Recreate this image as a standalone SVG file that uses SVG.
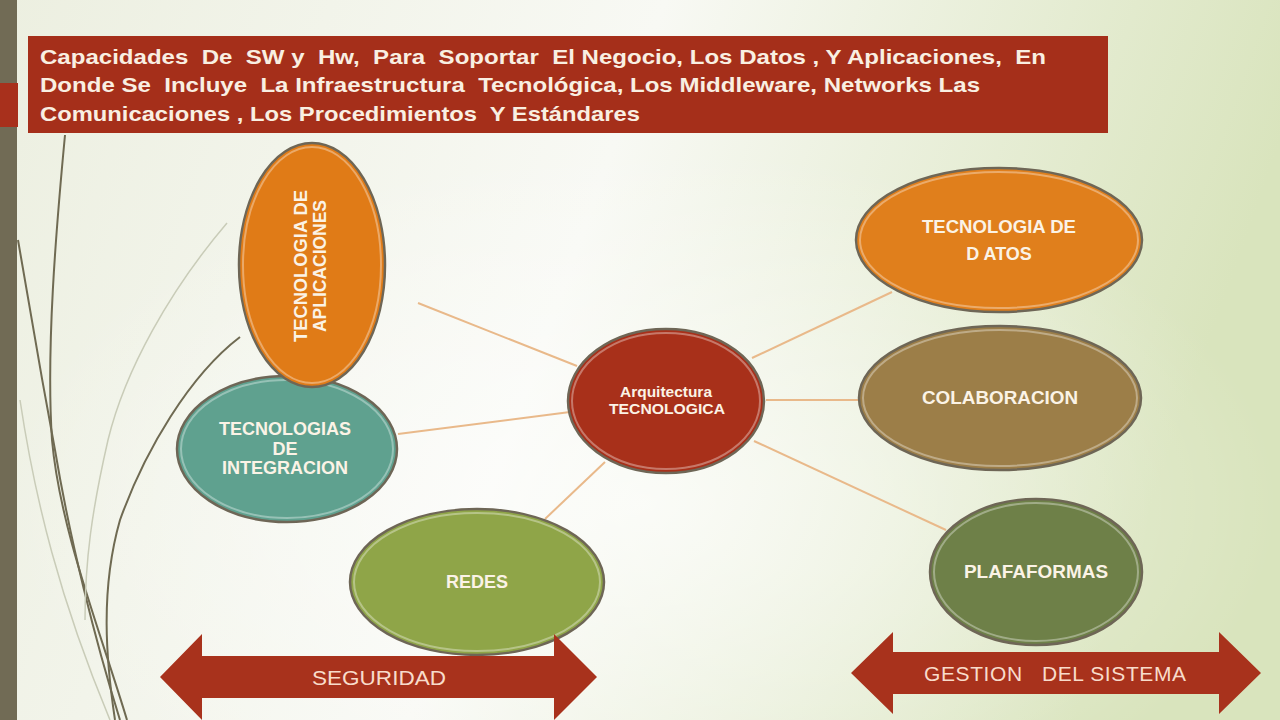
<svg xmlns="http://www.w3.org/2000/svg" width="1280" height="720" viewBox="0 0 1280 720">
<defs>
<linearGradient id="bg" x1="0" y1="0" x2="1" y2="0.2">
<stop offset="0" stop-color="#ecefe0"/>
<stop offset="0.5" stop-color="#f8f9f4"/>
<stop offset="1" stop-color="#d9e4bd"/>
</linearGradient>
<radialGradient id="glow" cx="0.5" cy="0.7" r="0.5">
<stop offset="0" stop-color="#ffffff" stop-opacity="0.7"/>
<stop offset="1" stop-color="#ffffff" stop-opacity="0"/>
</radialGradient>
<style>
.node{stroke:#6e6656;stroke-width:2.5}
.hi{fill:none;stroke:#ffffff;stroke-opacity:0.35;stroke-width:2}
.lbl{font-family:"Liberation Sans",Arial,sans-serif;font-weight:bold;font-size:18px;fill:#fbf3e6;text-anchor:middle}
.title{font-family:"Liberation Sans",Arial,sans-serif;font-weight:bold;font-size:21px;fill:#f9efe2}
.arr{fill:#a8321c}
.arrtxt{font-family:"Liberation Sans",Arial,sans-serif;font-size:21px;fill:#f8dccb;text-anchor:middle}
.conn line{stroke:#e9b98a;stroke-width:2}
.deco{fill:none;stroke:#6f6a52;stroke-width:2}
.decol{fill:none;stroke:#c9ccb8;stroke-width:1.5}
</style>
</defs>
<rect width="1280" height="720" fill="url(#bg)"/>
<rect width="1280" height="720" fill="url(#glow)"/>
<rect x="0" y="0" width="17" height="720" fill="#716b55"/>
<rect x="0" y="83" width="18" height="44" fill="#a8301c"/>
<g id="decoration">
<path class="deco" d="M65,135 C56,230 46,350 52,440 C60,530 100,630 127,720"/>
<path class="deco" d="M18,240 C28,300 42,380 55,450 C70,540 95,640 120,720"/>
<path class="deco" d="M240,337 C190,375 145,450 120,520 C100,590 106,660 115,720" stroke-width="1.6"/>
<path class="decol" d="M227,223 C170,290 125,370 108,440 C92,510 85,560 85,620"/>
<path class="decol" d="M20,400 C35,500 60,600 110,720"/>
</g>
<g id="title">
<rect x="28" y="36" width="1080" height="97" fill="#a52f1a"/>
<text class="title" x="40" y="64" textLength="1006" lengthAdjust="spacingAndGlyphs" xml:space="preserve">Capacidades  De  SW y  Hw,  Para  Soportar  El Negocio, Los Datos , Y Aplicaciones,  En</text>
<text class="title" x="40" y="92" textLength="940" lengthAdjust="spacingAndGlyphs" xml:space="preserve">Donde Se  Incluye  La Infraestructura  Tecnológica, Los Middleware, Networks Las</text>
<text class="title" x="40" y="121" textLength="600" lengthAdjust="spacingAndGlyphs" xml:space="preserve">Comunicaciones , Los Procedimientos  Y Estándares</text>
</g>
<g id="connectors" class="conn">
<line x1="418" y1="303" x2="577" y2="366"/>
<line x1="398" y1="434" x2="570" y2="412"/>
<line x1="545" y1="519" x2="605" y2="462"/>
<line x1="752" y1="358" x2="892" y2="292"/>
<line x1="766" y1="400" x2="859" y2="400"/>
<line x1="754" y1="441" x2="946" y2="530"/>
</g>
<g id="node-integracion">
<ellipse class="node" cx="287" cy="449" rx="110" ry="73" fill="#5fa18f"/>
<ellipse class="hi" cx="287" cy="449" rx="106" ry="69"/>
<text class="lbl" x="285" y="435">TECNOLOGIAS</text>
<text class="lbl" x="285" y="455">DE</text>
<text class="lbl" x="285" y="474">INTEGRACION</text>
</g>
<g id="node-aplicaciones">
<ellipse class="node" cx="312" cy="265" rx="73" ry="122" fill="#e07b17"/>
<ellipse class="hi" cx="312" cy="265" rx="69" ry="118"/>
<g transform="translate(312,266) rotate(-90)">
<text class="lbl" x="0" y="-5" textLength="152" lengthAdjust="spacingAndGlyphs">TECNOLOGIA DE</text>
<text class="lbl" x="0" y="14" textLength="132" lengthAdjust="spacingAndGlyphs">APLICACIONES</text>
</g>
</g>
<g id="node-redes">
<ellipse class="node" cx="477" cy="582" rx="127" ry="73" fill="#8fa548"/>
<ellipse class="hi" cx="477" cy="582" rx="123" ry="69"/>
<text class="lbl" x="477" y="588">REDES</text>
</g>
<g id="node-centro">
<ellipse class="node" cx="666" cy="401" rx="98" ry="72" fill="#a8301a"/>
<ellipse class="hi" cx="666" cy="401" rx="94" ry="68"/>
<text class="lbl" x="666" y="397" style="font-size:14px" textLength="92" lengthAdjust="spacingAndGlyphs">Arquitectura</text>
<text class="lbl" x="667" y="414" style="font-size:14px" textLength="116" lengthAdjust="spacingAndGlyphs">TECNOLOGICA</text>
</g>
<g id="node-datos">
<ellipse class="node" cx="999" cy="240" rx="143" ry="72" fill="#e07f1c"/>
<ellipse class="hi" cx="999" cy="240" rx="139" ry="68"/>
<text class="lbl" x="999" y="233" textLength="154" lengthAdjust="spacingAndGlyphs">TECNOLOGIA DE</text>
<text class="lbl" x="999" y="260">D ATOS</text>
</g>
<g id="node-colaboracion">
<ellipse class="node" cx="1000" cy="398" rx="141" ry="72" fill="#9c7e48"/>
<ellipse class="hi" cx="1000" cy="398" rx="137" ry="68"/>
<text class="lbl" x="1000" y="404" textLength="156" lengthAdjust="spacingAndGlyphs">COLABORACION</text>
</g>
<g id="node-plataformas">
<ellipse class="node" cx="1036" cy="572" rx="106" ry="73" fill="#6e8048"/>
<ellipse class="hi" cx="1036" cy="572" rx="102" ry="69"/>
<text class="lbl" x="1036" y="578" textLength="144" lengthAdjust="spacingAndGlyphs">PLAFAFORMAS</text>
</g>
<g id="arrow-seguridad">
<polygon class="arr" points="160,677 202,634 202,656 554,656 554,634 597,677 554,720 554,698 202,698 202,720"/>
<text class="arrtxt" x="379" y="685" textLength="134" lengthAdjust="spacingAndGlyphs">SEGURIDAD</text>
</g>
<g id="arrow-gestion">
<polygon class="arr" points="851,673 893,632 893,652 1219,652 1219,632 1261,673 1219,714 1219,694 893,694 893,714"/>
<text class="arrtxt" x="1055" y="681" textLength="262" lengthAdjust="spacing" xml:space="preserve">GESTION   DEL SISTEMA</text>
</g>
</svg>
